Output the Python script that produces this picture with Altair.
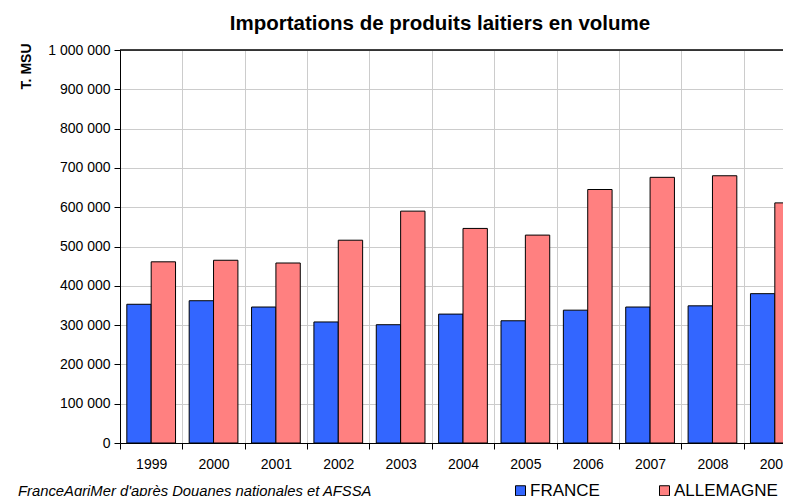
import altair as alt
import pandas as pd

years = ["1999", "2000", "2001", "2002", "2003", "2004", "2005", "2006", "2007", "2008", "2009"]
france = [353000, 362000, 346000, 308000, 301000, 328000, 311000, 338000, 346000, 349000, 380000]
allemagne = [461000, 465000, 458000, 516000, 590000, 546000, 529000, 645000, 676000, 680000, 611000]
series = ["FRANCE", "ALLEMAGNE"]
colors = ["#3366FF", "#FF8080"]

title_text = "Importations de produits laitiers en volume"
source_text = "FranceAgriMer d'après Douanes nationales et AFSSA"
y_title = "T. MSU"

rows = []
for i, y in enumerate(years):
    rows.append({"annee": y, "pays": "FRANCE", "volume": france[i]})
    rows.append({"annee": y, "pays": "ALLEMAGNE", "volume": allemagne[i]})
df = pd.DataFrame(rows)

FONT = "Liberation Sans, Arial, sans-serif"
W, H = 663, 393

bars = alt.Chart(df).mark_bar(clip=True, stroke="black", strokeWidth=1).encode(
    x=alt.X("annee:N", sort=years,
            scale=alt.Scale(domain=years, range=[0, 686], paddingInner=0, paddingOuter=0),
            axis=alt.Axis(title=None, labelAngle=0, tickBand="extent", grid=True,
                          gridColor="#cccccc", domainColor="black", tickColor="black",
                          tickSize=6, labelPadding=8, labelFontSize=14, labelColor="black",
                          labelFont=FONT)),
    xOffset=alt.XOffset("pays:N", sort=series,
                        scale=alt.Scale(domain=series, paddingOuter=0.28, paddingInner=0)),
    y=alt.Y("volume:Q",
            scale=alt.Scale(domain=[0, 1000000], nice=False),
            axis=alt.Axis(title=y_title, values=list(range(0, 1000001, 100000)),
                          labelExpr="replace(replace(format(datum.value, ',d'), ',', ' '), ',', ' ')",
                          gridColor="#cccccc", domainColor="black", tickColor="black",
                          tickSize=6, labelPadding=4, labelFontSize=14, labelColor="black",
                          labelFont=FONT, titleFont=FONT, titleFontSize=14, titleFontWeight="bold",
                          titleAngle=-90, titleAlign="right", titleBaseline="middle",
                          titleX=-94, titleY=-7, titleColor="black")),
    color=alt.Color("pays:N", sort=series,
                    scale=alt.Scale(domain=series, range=colors),
                    legend=alt.Legend(title=None, orient="none", legendX=392, legendY=432,
                                      direction="horizontal", columns=2, columnPadding=56,
                                      symbolType="square", symbolSize=100,
                                      symbolStrokeColor="black", symbolStrokeWidth=1,
                                      symbolOpacity=1,
                                      labelFont=FONT, labelFontSize=17, labelColor="black",
                                      labelOffset=1)),
)

top_rule = alt.Chart(pd.DataFrame({"a": [0]})).mark_rule(color="black", strokeWidth=1.5).encode(
    x=alt.value(0), x2=alt.value(W), y=alt.value(0)
)

title = alt.Chart(pd.DataFrame({"t": [title_text]})).mark_text(
    font=FONT, fontSize=20.5, fontWeight="bold", align="center", baseline="alphabetic", color="black"
).encode(text="t:N", x=alt.value(320), y=alt.value(-20))

source = alt.Chart(pd.DataFrame({"t": [source_text]})).mark_text(
    font=FONT, fontSize=14.8, fontStyle="italic", align="left", baseline="alphabetic", color="black"
).encode(text="t:N", x=alt.value(-102), y=alt.value(446))

chart = alt.layer(bars, top_rule, title, source).properties(
    width=W, height=H,
    autosize=alt.AutoSizeParams(type="none"),
    padding={"left": 112, "top": 42, "right": 0, "bottom": 53},
).configure_view(stroke=None)

chart.save("out.html", embed_options={"renderer": "svg", "actions": False})
